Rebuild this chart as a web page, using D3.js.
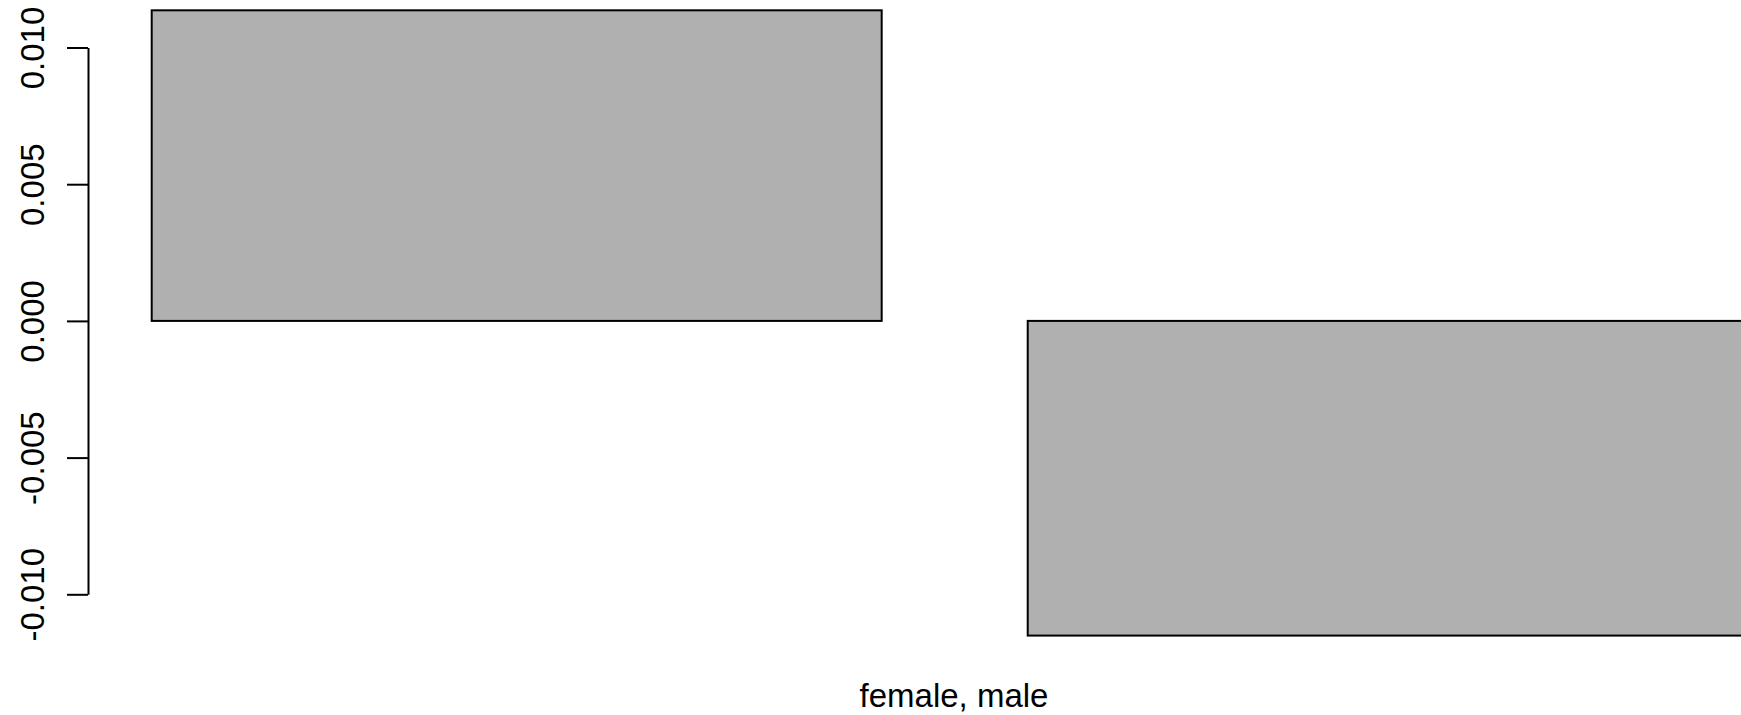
<!DOCTYPE html>
<html>
<head>
<meta charset="utf-8">
<script src="https://cdn.jsdelivr.net/npm/d3@7"></script>
<style>
  html, body { margin: 0; padding: 0; background: #ffffff; overflow: hidden; }
  svg { display: block; }
  text { font-family: "Liberation Sans", Arial, Helvetica, sans-serif; fill: #000; }
</style>
</head>
<body>
<svg id="chart" width="1741" height="715"></svg>
<script>
const categories = ["female", "male"];
const values = [0.01136, -0.01151];
const tickValues = [-0.010, -0.005, 0.000, 0.005, 0.010];
const tickLabels = ["-0.010", "-0.005", "0.000", "0.005", "0.010"];
const xLabel = "female, male";

const svg = d3.select("#chart");

const x = d3.scaleBand()
  .domain(categories)
  .range([151.7, 1757.7])
  .paddingInner(0.1667)
  .paddingOuter(0);

const y = d3.scaleLinear()
  .domain([-0.010, 0.010])
  .range([594.3, 47.5]);

// bars
svg.append("g")
  .selectAll("rect")
  .data(categories.map((c, i) => ({ c, v: values[i] })))
  .join("rect")
  .attr("x", d => x(d.c))
  .attr("width", x.bandwidth())
  .attr("y", d => Math.min(y(0), y(d.v)))
  .attr("height", d => Math.abs(y(d.v) - y(0)))
  .attr("fill", "#b0b0b0")
  .attr("stroke", "#000")
  .attr("stroke-width", 2);

// y axis
const axisX = 88;
const yAxis = d3.axisLeft(y)
  .tickValues(tickValues)
  .tickFormat((d, i) => tickLabels[i])
  .tickSize(21)
  .tickSizeOuter(0);

const gy = svg.append("g")
  .attr("transform", `translate(${axisX},0)`)
  .call(yAxis);

gy.select(".domain").attr("stroke", "#000").attr("stroke-width", 2);
gy.selectAll(".tick line").attr("stroke", "#000").attr("stroke-width", 2);
gy.selectAll(".tick text")
  .attr("x", null)
  .attr("dy", null)
  .attr("text-anchor", "middle")
  .attr("transform", "translate(-44,0) rotate(-90)")
  .style("font-size", "33px")
  .style("font-family", "'Liberation Sans', Arial, Helvetica, sans-serif")
  .attr("fill", "#000");

// x label
svg.append("text")
  .attr("x", 954)
  .attr("y", 706.5)
  .attr("text-anchor", "middle")
  .style("font-size", "33px")
  .text(xLabel);
</script>
</body>
</html>
